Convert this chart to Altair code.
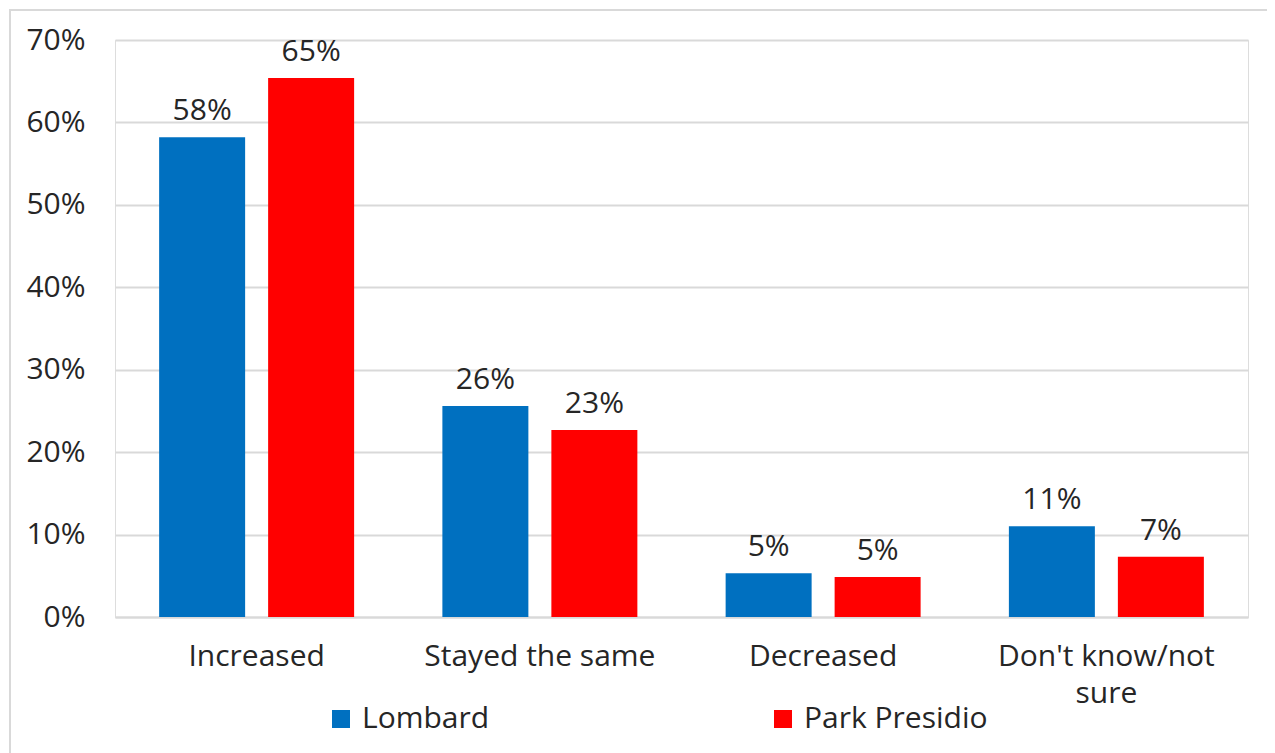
import altair as alt
import pandas as pd

categories = ["Increased", "Stayed the same", "Decreased", "Don't know/not sure"]
lombard = [58.2, 25.6, 5.3, 11.0]
park_presidio = [65.4, 22.7, 4.85, 7.3]
series = ["Lombard", "Park Presidio"]
colors = ["#0070C0", "#FF0000"]

rows = []
for c, v in zip(categories, lombard):
    rows.append({"cat": c, "series": "Lombard", "value": v / 100})
for c, v in zip(categories, park_presidio):
    rows.append({"cat": c, "series": "Park Presidio", "value": v / 100})
df = pd.DataFrame(rows)

FONT = "Open Sans"
TXT = "#262626"
FS = 30

x_enc = alt.X("cat:N", sort=categories, title=None,
              scale=alt.Scale(paddingInner=0.3116, paddingOuter=0.1558),
              axis=alt.Axis(labelAngle=0, ticks=False, domain=True, domainColor="#D9D9D9",
                            domainWidth=2, labelPadding=24, labelFontSize=FS, labelFont=FONT,
                            labelColor=TXT, labelLineHeight=37, labelBaseline="top", labelLimit=0,
                            labelExpr="datum.label == \"Don't know/not sure\" ? [\"Don't know/not\", \"sure\"] : datum.label"))
xoff = alt.XOffset("series:N", sort=series, scale=alt.Scale(paddingInner=0.211, paddingOuter=0))
y_enc = alt.Y("value:Q", title=None,
              scale=alt.Scale(domain=[0, 0.7], nice=False),
              axis=alt.Axis(format=".0%", values=[0, 0.1, 0.2, 0.3, 0.4, 0.5, 0.6, 0.7],
                            ticks=False, domain=False, gridColor="#D9D9D9", gridWidth=2,
                            labelFontSize=FS, labelFont=FONT, labelColor=TXT, labelPadding=30))

frame = alt.Chart(pd.DataFrame({"a": [0]})).mark_rect(
    fillOpacity=0, stroke="#D9D9D9", strokeWidth=2, clip=False
).encode(x=alt.value(-105), x2=alt.value(1200), y=alt.value(-30), y2=alt.value(760))

bars = alt.Chart(df).mark_bar().encode(
    x=x_enc, xOffset=xoff, y=y_enc,
    color=alt.Color("series:N", sort=series, scale=alt.Scale(domain=series, range=colors),
                    legend=alt.Legend(title=None, orient="none", legendX=211, legendY=664,
                                      direction="horizontal", symbolType="square",
                                      symbolSize=324, symbolStrokeWidth=0, labelFontSize=FS,
                                      labelFont=FONT, labelColor=TXT, columnPadding=278,
                                      symbolOffset=0, labelOffset=6, labelLimit=0))
)

labels = alt.Chart(df).mark_text(baseline="bottom", dy=-11, fontSize=FS, font=FONT, color=TXT).encode(
    x=alt.X("cat:N", sort=categories), xOffset=xoff, y=alt.Y("value:Q"),
    text=alt.Text("value:Q", format=".0%")
)

chart = alt.layer(frame, bars, labels).properties(
    width=1133, height=577,
    autosize=alt.AutoSizeParams(type="none"),
    padding={"left": 107, "top": 32, "right": 19, "bottom": 136}
).configure_view(stroke=None).configure(background="white")

chart.save("out.html", embed_options={"renderer": "svg", "actions": False})
